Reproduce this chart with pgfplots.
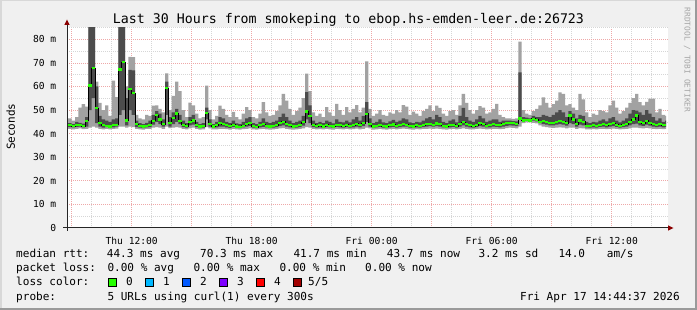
\documentclass[border=0pt]{standalone}
\usepackage{fontspec}
\setmainfont{DejaVu Sans Mono}
\usepackage{pgfplots}
\pgfplotsset{compat=1.18}
\usepgfplotslibrary{fillbetween}
\usepackage{pgfplotstable}

\definecolor{bgc}{HTML}{F0F0F0}
\definecolor{smokeL}{HTML}{A2A2A2}
\definecolor{smokeD}{HTML}{4C4C4C}
\definecolor{medgreen}{HTML}{26FF00}
\definecolor{mgrid}{HTML}{EEA8A8}
\definecolor{ngrid}{HTML}{D6D6D6}
\definecolor{arrowc}{HTML}{8B0000}
\definecolor{shadeA}{HTML}{D8D8D8}
\definecolor{shadeB}{HTML}{9A9A9A}
\definecolor{lc1}{HTML}{00B8FF}
\definecolor{lc2}{HTML}{0059FF}
\definecolor{lc3}{HTML}{7E00FF}
\definecolor{lc4}{HTML}{FF0000}
\definecolor{lc5}{HTML}{A10000}

\newcommand\fT{\fontsize{13.26}{15}\selectfont}
\newcommand\fL{\fontsize{11.05}{13}\selectfont}
\newcommand\fS{\fontsize{9.65}{11}\selectfont}
\newcommand\fW{\fontsize{7.9}{9}\selectfont}

% x in 10-minute steps since Thu 00:00 ; values in ms
\pgfplotstableread{
x p1 p2 med p4 p5
52.4 42.0 42.8 43.5 44.5 46.5
53 42.0 42.8 43.5 44.5 46.5
54 41.8 42.6 43.2 44.0 45.5
55 42.0 42.9 43.8 45.0 47.0
56 42.2 43.0 43.6 44.6 51.0
57 41.9 42.7 43.2 44.2 52.5
58 42.0 43.0 45.5 47.0 51.5
59 42.5 50.0 60.4 90.0 90.0
60 43.0 55.0 67.8 90.0 90.0
61 42.5 44.5 50.8 60.0 62.0
62 42.0 43.0 44.5 47.5 53.0
63 41.8 42.5 43.5 46.0 50.0
64 42.0 42.8 43.2 45.5 52.0
65 41.8 42.5 43.0 45.0 47.5
66 42.0 42.7 43.5 46.0 62.5
67 42.1 43.0 43.8 46.5 55.5
68 43.0 48.0 67.2 90.0 90.0
69 43.0 50.0 70.3 90.0 90.0
70 42.5 43.5 45.6 55.0 60.0
71 43.0 50.0 59.0 67.0 72.5
72 42.8 48.0 57.2 66.8 72.4
73 42.0 42.8 44.0 45.5 48.0
74 41.8 42.5 43.2 44.5 46.5
75 41.7 42.3 43.0 44.0 46.0
76 42.0 42.6 43.4 44.6 48.0
77 42.0 42.8 43.6 45.5 47.5
78 42.5 43.8 45.5 48.0 51.9
79 42.8 45.0 47.8 49.5 52.0
80 42.5 44.0 46.0 48.5 50.5
81 42.0 43.0 44.0 46.0 49.0
82 43.0 48.0 59.3 62.0 65.5
83 42.3 43.0 44.5 47.0 50.0
84 42.5 44.0 46.5 49.0 56.0
85 42.8 45.0 48.5 50.5 62.0
86 42.5 44.0 45.5 48.0 58.0
87 42.0 42.8 43.8 45.5 50.0
88 41.8 42.5 43.2 44.5 47.0
89 42.2 43.5 45.0 47.0 53.1
90 42.5 43.8 45.6 48.0 52.0
91 42.0 42.8 43.5 45.0 48.5
92 41.7 42.3 43.0 44.0 46.5
93 41.8 42.5 43.2 44.5 47.0
94 42.8 46.0 48.7 51.0 60.4
95 42.2 43.0 44.0 46.0 50.0
96 41.8 42.4 43.0 44.0 46.0
97 41.8 42.6 43.5 45.0 47.5
98 42.0 43.0 44.5 47.0 51.9
99 42.0 43.0 44.0 46.5 50.5
100 41.9 42.6 43.5 45.0 48.0
101 41.7 42.4 43.2 44.5 47.0
102 42.0 42.9 43.8 45.5 49.2
103 41.8 42.5 43.0 44.3 47.0
104 41.7 42.3 42.8 44.0 46.0
105 41.9 42.6 43.4 45.0 48.5
106 42.0 43.0 44.0 46.5 51.2
107 42.2 43.3 44.5 47.0 50.0
108 41.8 42.5 43.2 44.5 47.0
109 41.7 42.3 42.8 44.0 46.5
110 41.9 42.7 43.5 45.0 48.5
111 42.0 42.9 44.0 46.5 53.4
112 41.8 42.6 43.4 45.0 49.0
113 41.7 42.4 43.0 44.5 47.5
114 41.8 42.5 43.3 45.0 48.0
115 42.0 42.8 43.6 45.5 49.5
116 42.2 43.2 44.5 47.0 52.0
117 42.3 43.5 45.0 48.5 56.9
118 42.0 43.0 44.0 47.0 54.0
119 41.8 42.6 43.5 45.5 50.5
120 41.7 42.4 43.0 44.5 48.0
121 41.8 42.5 43.4 45.0 49.5
122 42.0 42.8 43.8 45.5 51.0
123 42.2 43.4 44.8 47.5 55.0
124 42.8 46.0 49.4 57.6 65.4
125 42.5 44.5 47.5 52.0 58.0
126 42.0 42.8 43.8 45.5 49.0
127 41.8 42.5 43.2 44.5 47.5
128 41.9 42.7 43.6 45.0 48.5
129 41.8 42.4 43.0 44.5 47.0
130 42.0 42.8 43.8 45.5 51.2
131 41.8 42.6 43.4 45.0 49.0
132 41.7 42.4 43.0 44.3 47.5
133 42.0 42.9 43.8 46.0 52.6
134 41.9 42.7 43.5 45.0 50.0
135 41.8 42.5 43.2 44.8 48.0
136 42.0 42.8 43.7 45.5 51.2
137 41.8 42.5 43.3 44.8 49.0
138 41.9 42.7 43.6 46.0 50.5
139 42.1 43.0 44.2 47.0 52.1
140 41.8 42.6 43.5 45.5 49.0
141 42.0 43.2 44.5 47.5 51.0
142 42.5 45.0 48.4 53.4 70.6
143 42.2 43.0 44.2 46.5 50.5
144 41.7 42.4 43.0 44.5 47.5
145 41.8 42.6 43.4 45.0 48.5
146 42.0 42.9 43.8 46.0 50.0
147 41.8 42.5 43.2 44.8 48.0
148 41.7 42.3 43.0 44.5 47.5
149 41.9 42.7 43.6 45.2 49.0
150 42.0 42.9 43.9 45.8 48.5
151 41.8 42.5 43.3 45.0 50.0
152 42.0 42.8 43.6 45.5 49.0
153 42.1 43.0 44.0 46.5 52.1
154 42.0 43.0 43.8 46.0 51.5
155 41.8 42.5 43.2 44.8 48.0
156 41.7 42.4 43.0 44.5 49.3
157 41.9 42.7 43.5 45.0 48.5
158 41.8 42.5 43.2 44.8 47.5
159 42.0 42.8 43.6 45.5 49.5
160 42.0 43.0 44.0 46.5 50.5
161 42.1 43.2 44.2 47.0 52.0
162 42.0 43.0 43.8 46.0 49.5
163 42.1 43.2 44.3 48.0 51.9
164 42.0 43.0 44.0 47.0 50.9
165 41.8 42.6 43.4 45.0 48.5
166 41.7 42.4 43.0 44.5 47.5
167 41.9 42.7 43.6 45.5 49.5
168 42.0 42.9 43.8 46.0 50.0
169 41.8 42.5 43.2 44.8 48.0
170 42.0 43.0 44.0 47.5 52.0
171 42.2 43.5 44.8 50.9 56.9
172 42.0 43.0 44.0 47.0 53.0
173 41.8 42.6 43.5 45.5 50.0
174 41.8 42.5 43.2 45.0 48.5
175 42.0 42.8 43.6 46.0 50.0
176 42.1 43.2 44.5 47.5 51.7
177 42.0 43.0 44.0 46.5 51.0
178 41.8 42.6 43.4 45.0 48.5
179 41.9 42.7 43.6 45.5 49.0
180 42.0 43.0 44.0 46.0 50.5
181 42.0 42.9 43.8 46.0 52.6
182 41.9 42.7 43.6 45.0 48.0
183 42.0 43.0 44.2 45.5 47.0
184 42.3 43.3 44.5 45.5 46.5
185 42.5 43.5 44.6 45.5 46.5
186 42.4 43.4 44.5 45.3 46.3
187 42.2 43.2 44.2 45.2 46.5
188 43.0 46.0 46.4 66.0 79.0
189 44.5 45.2 45.6 47.0 50.0
190 44.8 45.4 45.8 46.8 48.5
191 44.8 45.3 45.6 46.5 48.0
192 44.6 45.5 46.3 47.5 49.5
193 44.3 45.2 45.8 47.0 50.5
194 43.5 44.5 45.0 47.0 52.0
195 43.0 44.0 45.2 48.0 55.4
196 42.8 43.8 44.8 47.5 53.0
197 42.5 43.5 44.5 47.0 51.0
198 42.4 43.5 44.6 48.0 52.5
199 42.5 43.8 45.0 49.0 54.0
200 42.6 44.0 45.5 50.0 57.5
201 42.5 43.8 45.0 49.0 56.9
202 42.2 43.4 44.5 47.0 52.0
203 42.5 44.5 47.7 49.5 52.5
204 42.5 44.0 46.0 48.5 51.0
205 42.0 43.0 44.0 46.5 50.0
206 42.3 43.8 45.6 48.0 56.9
207 42.2 43.5 45.0 47.5 54.5
208 41.8 42.6 43.4 45.0 49.0
209 41.8 42.5 43.2 44.5 47.0
210 41.9 42.7 43.5 45.0 48.5
211 41.8 42.5 43.3 44.8 48.0
212 42.0 42.9 43.8 45.5 50.0
213 42.0 43.0 44.0 46.0 49.5
214 41.9 42.7 43.6 45.2 49.0
215 42.0 43.0 44.2 46.5 52.0
216 42.1 43.2 44.5 47.0 54.0
217 42.0 42.9 43.8 45.5 51.0
218 41.8 42.5 43.3 44.8 48.5
219 41.9 42.8 43.7 45.5 49.5
220 42.0 43.0 44.0 46.5 51.0
221 42.2 43.5 44.8 48.5 53.0
222 42.5 44.0 46.0 50.0 55.0
223 42.5 44.2 47.7 49.8 56.9
224 42.3 43.5 44.9 49.0 53.4
225 42.2 43.3 44.5 48.0 52.0
226 42.4 43.8 45.5 50.0 53.5
227 42.2 43.4 44.6 48.5 54.8
228 42.0 43.0 44.0 47.0 54.8
229 41.9 42.8 43.8 45.5 49.0
230 42.0 43.0 44.0 46.5 50.5
231 41.9 42.7 43.6 45.0 48.0
232 42.0 42.9 43.7 45.5 47.5
232.3 42.0 42.9 43.7 45.5 47.5
}\smoke

\begin{document}
\begin{tikzpicture}[x=1pt,y=1pt]
% background (with a hole for the canvas) and frame
\fill[bgc, even odd rule] (0,0) rectangle (697,-310) (67,-27) rectangle (668,-228);
\fill[shadeA] (0,0) rectangle (697,-1.5);
\fill[shadeA] (0,0) rectangle (1.5,-310);
\fill[shadeB] (0,-307.5) rectangle (697,-310);
\fill[shadeB] (694.5,0) rectangle (697,-310);

\begin{axis}[
  at={(67pt,-228pt)}, anchor=south west,
  scale only axis, width=601pt, height=201pt,
  xmin=52.6, xmax=232.9, ymin=0, ymax=85.2,
  axis background/.style={fill=white},
  axis line style={draw=none},
  xtick={54,72,...,216},
  xticklabels={,Thu 12:00,,Thu 18:00,,Fri 00:00,,Fri 06:00,,Fri 12:00},
  minor xtick={54,60,...,230},
  ytick={0,10,...,80},
  yticklabels={0,10 m,20 m,30 m,40 m,50 m,60 m,70 m,80 m},
  minor ytick={5,15,...,85},
  grid=both,
  major grid style={mgrid, dash pattern=on 1pt off 1pt, line width=0.65pt},
  minor grid style={ngrid, dash pattern=on 1pt off 1pt, line width=0.65pt},
  tick align=outside, xtick pos=left, ytick pos=left,
  major tick length=3pt, minor tick length=0pt,
  tick style={black!85, line width=0.8pt},
  xticklabel style={font=\fS, anchor=base, inner sep=0pt, yshift=-13pt},
  yticklabel style={font=\fS, anchor=east, inner sep=0pt, xshift=-7.5pt},
  clip=true,
]
\addplot[name path=P1, draw=none, const plot, mark=none] table[x=x,y=p1]{\smoke};
\addplot[name path=P5, draw=none, const plot, mark=none] table[x=x,y=p5]{\smoke};
\addplot[name path=P2, draw=none, const plot, mark=none] table[x=x,y=p2]{\smoke};
\addplot[name path=P4, draw=none, const plot, mark=none] table[x=x,y=p4]{\smoke};
\addplot[smokeL, draw=none] fill between[of=P1 and P5];
\addplot[smokeD, draw=none] fill between[of=P2 and P4];
\addplot[black, line width=0.9pt, const plot, mark=none] table[x=x,y=med]{\smoke};
\addplot[medgreen, line width=2.2pt, jump mark left, mark=none] table[x=x,y=med]{\smoke};
\end{axis}

% axis lines and arrows
\draw[black!85, line width=1pt] (63,-228) -- (668,-228);
\fill[arrowc] (668,-225.3) -- (673.5,-228) -- (668,-230.7) -- cycle;
\draw[black!85, line width=1pt] (67,-231) -- (67,-25);
\fill[arrowc] (64.3,-25) -- (67,-19.5) -- (69.7,-25) -- cycle;

% titles
\node[anchor=base, font=\fT, inner sep=0pt] at (348.5,-24) {Last 30 Hours from smokeping to ebop.hs-emden-leer.de:26723};
\node[rotate=90, anchor=base, font=\fL, inner sep=0pt] at (15,-126.7) {Seconds};
\node[rotate=-90, anchor=base, font=\fW, inner sep=0pt, text=black!35] at (684.5,-60) {RRDTOOL / TOBI OETIKER};

% legend
\begin{scope}[every node/.style={anchor=base west, font=\fL, inner sep=0pt}]
\node at (16,-258) {median rtt:};
\node at (106.7,-258) {44.3 ms avg};
\node at (200,-258) {70.3 ms max};
\node at (293.3,-258) {41.7 ms min};
\node at (386.7,-258) {43.7 ms now};
\node at (478.3,-258) {3.2 ms sd};
\node at (558.3,-258) {14.0};
\node at (606.7,-258) {am/s};
\node at (16,-272) {packet loss:};
\node at (107.3,-272) {0.00 \% avg};
\node at (193.3,-272) {0.00 \% max};
\node at (279.3,-272) {0.00 \% min};
\node at (365,-272) {0.00 \% now};
\node at (16,-286) {loss color:};
\node at (126,-286) {0};
\node at (163,-286) {1};
\node at (200,-286) {2};
\node at (237,-286) {3};
\node at (274,-286) {4};
\node at (308,-286) {5/5};
\node at (16,-300) {probe:};
\node at (107.3,-300) {5 URLs using curl(1) every 300s};
\end{scope}
\node[anchor=base east, font=\fL, inner sep=0pt] at (680,-300) {Fri Apr 17 14:44:37 2026};
\foreach \xx/\cc in {108.5/medgreen,145.5/lc1,182.5/lc2,219.5/lc3,256.5/lc4,293.5/lc5}{
  \filldraw[fill=\cc, draw=black, line width=0.8pt] (\xx,-278.5) rectangle ++(7.5,-7.5);
}
\end{tikzpicture}
\end{document}
